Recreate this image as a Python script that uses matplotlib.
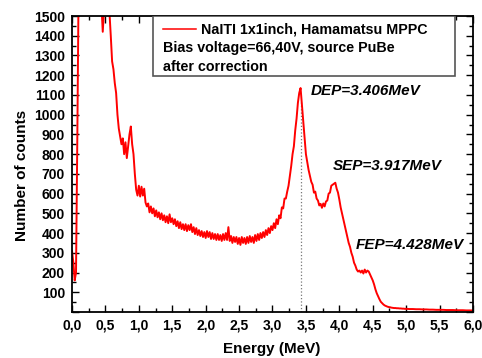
import matplotlib
matplotlib.use('Agg')
import matplotlib.pyplot as plt
import numpy as np
from matplotlib.patches import Rectangle
from matplotlib.ticker import MultipleLocator, FuncFormatter

plt.rcParams['font.family'] = ['Liberation Sans', 'DejaVu Sans']

# spectrum, 0.02 MeV steps from 0.00 to 5.00 MeV
energy_lo = np.round(np.arange(0, 5.001, 0.02), 2)
counts_lo = [
    310, 250, 160, 200, 900, 1700, 1900, 2000, 2000, 1950,
    1900, 1850, 1800, 1760, 1720, 1690, 1660, 1640, 1620, 1600,
    1580, 1560, 1560, 1420, 1540, 1600, 1580, 1560, 1520, 1400,
    1270, 1230, 1160, 1110, 1000, 930, 890, 850, 880, 800,
    860, 780, 840, 900, 940, 850, 800, 700, 620, 590,
    640, 585, 635, 590, 625, 555, 535, 550, 505, 535,
    500, 525, 485, 515, 480, 505, 470, 500, 465, 490,
    455, 485, 450, 495, 455, 475, 445, 470, 435, 460,
    425, 455, 420, 445, 415, 445, 410, 440, 415, 445,
    405, 430, 395, 425, 390, 415, 385, 410, 380, 405,
    375, 410, 380, 405, 370, 400, 370, 395, 365, 395,
    365, 390, 360, 395, 365, 400, 365, 430, 360, 385,
    350, 380, 355, 380, 345, 375, 340, 380, 350, 375,
    345, 380, 350, 385, 355, 380, 350, 390, 360, 395,
    365, 400, 375, 405, 380, 415, 390, 425, 400, 435,
    415, 450, 425, 470, 445, 490, 475, 530, 525, 575,
    575, 610, 640, 690, 740, 800, 840, 920, 980, 1060,
    1110, 1135, 1050, 960, 880, 800, 760, 720, 690, 660,
    645, 605, 610, 575, 565, 540, 548, 528, 550, 535,
    560, 565, 600, 605, 640, 645, 650, 655, 625, 605,
    570, 530, 500, 470, 440, 410, 380, 350, 330, 300,
    280, 250, 235, 215, 205, 210, 200, 210, 195, 215,
    200, 210, 205, 190, 175, 160, 140, 115, 95, 80,
    65, 52, 45, 38, 33, 30, 27, 25, 24, 22,
    21, 20, 20, 19, 19, 18, 18, 17, 17, 16,
    16,
]
# tail, 0.05 MeV steps
energy_hi = np.round(np.arange(5.05, 6.001, 0.05), 2)
counts_hi = [15, 15, 14, 14, 13, 13, 12, 12, 11, 11,
             11, 10, 10, 10, 9, 9, 9, 8, 8, 8]

energy = np.concatenate([energy_lo, energy_hi])
counts = np.concatenate([counts_lo, counts_hi])

dep_energy = 3.42
dep_top = 1075

peak_labels = ['DEP=3.406MeV', 'SEP=3.917MeV', 'FEP=4.428MeV']
label_x = [3.576, 3.90, 4.25]
label_y = [1120, 742, 341]

legend_lines = ['NaITI 1x1inch, Hamamatsu MPPC',
                'Bias voltage=66,40V, source PuBe',
                'after correction']

fig = plt.figure(figsize=(4.82, 3.58), dpi=100)
ax = fig.add_axes([0.1494, 0.1285, 0.8319, 0.8268])

ax.plot([dep_energy, dep_energy], [0, dep_top], color='#777777', linestyle=':', linewidth=0.9, zorder=1)
ax.plot(energy, counts, color='#ff0000', linewidth=1.4, zorder=2)

ax.set_xlim(0, 6.0)
ax.set_ylim(0, 1500)

ax.xaxis.set_major_locator(MultipleLocator(0.5))
ax.xaxis.set_minor_locator(MultipleLocator(0.25))
ax.yaxis.set_major_locator(MultipleLocator(100))
ax.yaxis.set_minor_locator(MultipleLocator(50))
ax.xaxis.set_major_formatter(FuncFormatter(lambda v, p: f'{v:.1f}'.replace('.', ',')))
ax.yaxis.set_major_formatter(FuncFormatter(lambda v, p: '' if v == 0 else f'{int(v)}'))

ax.tick_params(which='both', direction='in', top=True, right=True, width=1.0)
ax.tick_params(which='major', length=5, labelsize=10, pad=5)
ax.tick_params(which='minor', length=3)
for lab in ax.get_xticklabels() + ax.get_yticklabels():
    lab.set_fontweight('bold')
for sp in ax.spines.values():
    sp.set_linewidth(1.3)

ax.set_xlabel('Energy (MeV)', fontsize=11, fontweight='bold')
ax.set_ylabel('Number of counts', fontsize=11, fontweight='bold')
ax.xaxis.set_label_coords(0.499, -0.103)
ax.yaxis.set_label_coords(-0.108, 0.463)

for txt, tx, ty in zip(peak_labels, label_x, label_y):
    ax.text(tx, ty, txt, fontsize=11, fontweight='bold', fontstyle='italic', va='center', ha='left')

# legend box drawn by hand so the 2nd and 3rd lines start under the key
ax.add_patch(Rectangle((0.202, 0.797), 0.753, 0.203, transform=ax.transAxes,
                       facecolor='white', edgecolor='#555555', linewidth=1.2, zorder=3))
ax.plot([0.227, 0.309], [0.956, 0.956], transform=ax.transAxes, color='#ff0000', linewidth=1.1, zorder=4)
ax.text(0.322, 0.956, legend_lines[0], transform=ax.transAxes, fontsize=10.3, fontweight='bold', va='center', zorder=4)
ax.text(0.227, 0.892, legend_lines[1], transform=ax.transAxes, fontsize=10.3, fontweight='bold', va='center', zorder=4)
ax.text(0.227, 0.828, legend_lines[2], transform=ax.transAxes, fontsize=10.3, fontweight='bold', va='center', zorder=4)

fig.savefig('out.png', dpi=100)
